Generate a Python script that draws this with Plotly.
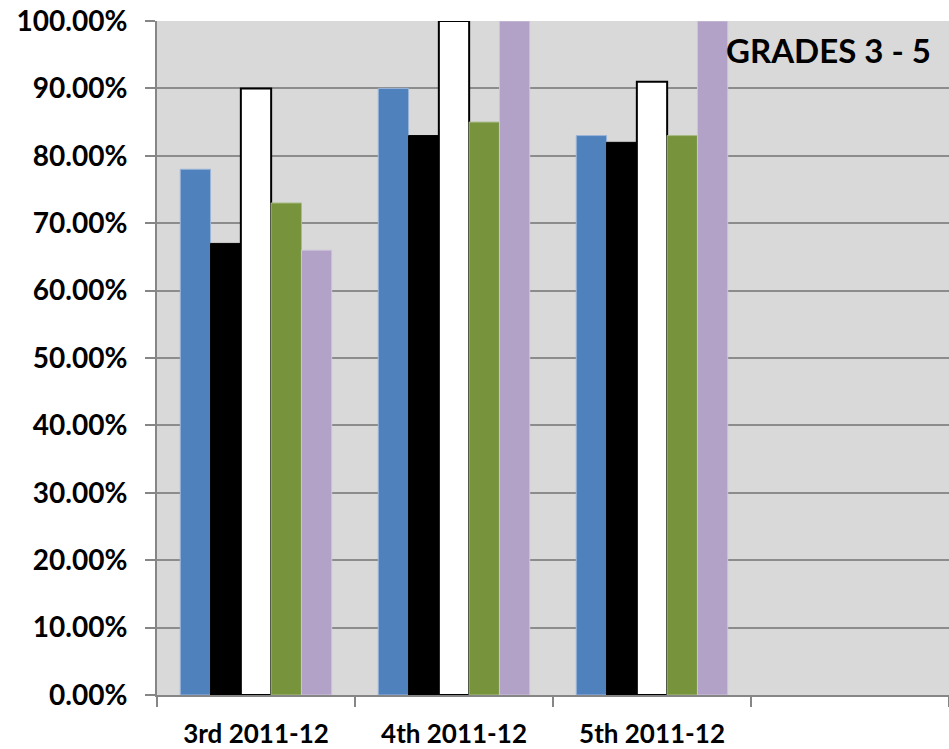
import plotly.graph_objects as go

categories = ["3rd 2011-12", "4th 2011-12", "5th 2011-12", " "]
series_names = ["Series 1", "Series 2", "Series 3", "Series 4", "Series 5"]
series_values = [
    [0.78, 0.90, 0.83],
    [0.67, 0.83, 0.82],
    [0.90, 1.00, 0.91],
    [0.73, 0.85, 0.83],
    [0.66, 1.00, 1.00],
]
colors = ["#4f81bd", "#000000", "#ffffff", "#77933c", "#b3a2c7"]
line_colors = ["#9ab5d8", "#000000", "#000000", "#a8bb86", "#cfc3dd"]
line_widths = [1, 1, 2, 1, 1]
title_text = "GRADES 3 - 5"

FONT = "Lato"

fig = go.Figure()
for name, vals, c, lc, lw in zip(series_names, series_values, colors, line_colors, line_widths):
    fig.add_trace(go.Bar(
        x=categories[:3], y=vals, name=name,
        marker=dict(color=c, line=dict(color=lc, width=lw)),
    ))

fig.update_layout(
    width=949, height=749,
    margin=dict(l=157, r=0, t=21, b=54),
    paper_bgcolor="white", plot_bgcolor="#d9d9d9",
    barmode="group", bargap=0.235, bargroupgap=0,
    showlegend=False,
    font=dict(family=FONT, color="black"),
    xaxis=dict(
        type="category", categoryorder="array", categoryarray=categories,
        range=[-0.5, 3.5], tickson="boundaries", automargin=False,
        ticks="outside", ticklen=10, tickcolor="#868686", tickwidth=2,
        showline=True, linecolor="#868686", linewidth=2,
        showgrid=False,
        tickfont=dict(family=FONT, size=26, weight="bold", color="black"),
        ticklabelstandoff=15,
    ),
    yaxis=dict(
        range=[0, 1], dtick=0.1, tickformat=".2%", automargin=False,
        ticks="outside", ticklen=10, tickcolor="#868686", tickwidth=2,
        showline=True, linecolor="#868686", linewidth=2,
        showgrid=True, gridcolor="#8c8c8c", gridwidth=2,
        zeroline=False,
        tickfont=dict(family=FONT, size=28, weight="bold", color="black"),
        ticklabelstandoff=12,
    ),
    annotations=[dict(
        text=title_text, xref="paper", yref="paper", x=0.98, y=0.957,
        xanchor="right", yanchor="middle", showarrow=False,
        font=dict(family=FONT, size=33, weight="bold", color="black"),
    )],
)

fig.write_html(
    "out.html",
    config={"displayModeBar": False},
    post_script="document.body.style.margin='0';document.body.style.overflow='hidden';",
)
